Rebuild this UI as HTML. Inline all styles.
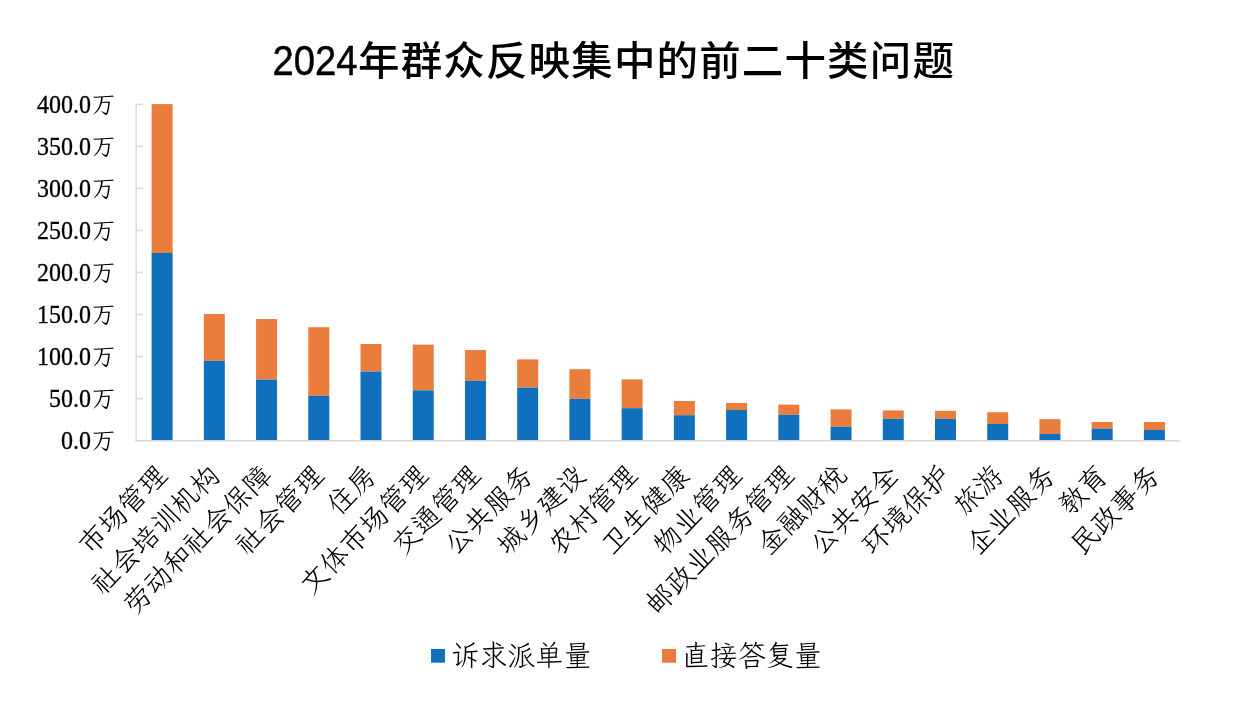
<!DOCTYPE html>
<html lang="zh-CN"><head><meta charset="utf-8"><title>2024年群众反映集中的前二十类问题</title>
<style>html,body{margin:0;padding:0;background:#fff;overflow:hidden}svg{display:block}.y{font-family:'Liberation Serif','LXGW WenKai TC','Noto Serif CJK SC',serif;font-size:24px;fill:#000}.x{font-family:'Liberation Serif','LXGW WenKai TC','Noto Serif CJK SC',serif;font-size:28.0px;fill:#000;letter-spacing:0.10px;font-weight:300}.t{font-family:'Liberation Sans','Noto Sans CJK SC',sans-serif;font-size:44.4px;fill:#000}.c{font-size:41.5px;letter-spacing:1.17px;font-weight:500}.w{font-weight:300}</style></head><body>
<svg width="1250" height="706" viewBox="0 0 1250 706">
<rect width="1250" height="706" fill="#fff"/>
<text class="t" transform="translate(0,75.2) scale(1,0.96)" x="272.4" y="-0.5"><tspan textLength="85" lengthAdjust="spacingAndGlyphs" stroke="#000" stroke-width="0.5">2024</tspan><tspan class="c" x="358" y="0">年群众反映集中的前二十类问题</tspan></text>
<g fill="#D9D9D9">
<rect x="135.4" y="103.6" width="1.6" height="338" fill="#DEDEDE"/>
<rect x="135.4" y="440" width="1045" height="1.6"/>
<rect x="136" y="103.65" width="7" height="1.5"/>
<rect x="136" y="145.68" width="7" height="1.5"/>
<rect x="136" y="187.71" width="7" height="1.5"/>
<rect x="136" y="229.74" width="7" height="1.5"/>
<rect x="136" y="271.77" width="7" height="1.5"/>
<rect x="136" y="313.80" width="7" height="1.5"/>
<rect x="136" y="355.83" width="7" height="1.5"/>
<rect x="136" y="397.86" width="7" height="1.5"/>
</g>
<text class="y" transform="translate(115.6,113.00) scale(1,1.045)" text-anchor="end"><tspan stroke="#000" stroke-width="0.3">400.0</tspan><tspan class="w" dx="0.6" dy="-0.4">万</tspan></text>
<text class="y" transform="translate(115.6,155.03) scale(1,1.045)" text-anchor="end"><tspan stroke="#000" stroke-width="0.3">350.0</tspan><tspan class="w" dx="0.6" dy="-0.4">万</tspan></text>
<text class="y" transform="translate(115.6,197.06) scale(1,1.045)" text-anchor="end"><tspan stroke="#000" stroke-width="0.3">300.0</tspan><tspan class="w" dx="0.6" dy="-0.4">万</tspan></text>
<text class="y" transform="translate(115.6,239.09) scale(1,1.045)" text-anchor="end"><tspan stroke="#000" stroke-width="0.3">250.0</tspan><tspan class="w" dx="0.6" dy="-0.4">万</tspan></text>
<text class="y" transform="translate(115.6,281.12) scale(1,1.045)" text-anchor="end"><tspan stroke="#000" stroke-width="0.3">200.0</tspan><tspan class="w" dx="0.6" dy="-0.4">万</tspan></text>
<text class="y" transform="translate(115.6,323.15) scale(1,1.045)" text-anchor="end"><tspan stroke="#000" stroke-width="0.3">150.0</tspan><tspan class="w" dx="0.6" dy="-0.4">万</tspan></text>
<text class="y" transform="translate(115.6,365.18) scale(1,1.045)" text-anchor="end"><tspan stroke="#000" stroke-width="0.3">100.0</tspan><tspan class="w" dx="0.6" dy="-0.4">万</tspan></text>
<text class="y" transform="translate(115.6,407.21) scale(1,1.045)" text-anchor="end"><tspan stroke="#000" stroke-width="0.3">50.0</tspan><tspan class="w" dx="0.6" dy="-0.4">万</tspan></text>
<text class="y" transform="translate(115.6,449.24) scale(1,1.045)" text-anchor="end"><tspan stroke="#000" stroke-width="0.3">0.0</tspan><tspan class="w" dx="0.6" dy="-0.4">万</tspan></text>
<rect x="151.60" y="104.10" width="21.00" height="148.90" fill="#EA7D3C"/>
<rect x="151.60" y="253.00" width="21.00" height="187.00" fill="#1070BD"/>
<rect x="203.83" y="314.00" width="21.00" height="46.80" fill="#EA7D3C"/>
<rect x="203.83" y="360.80" width="21.00" height="79.20" fill="#1070BD"/>
<rect x="256.05" y="319.00" width="21.00" height="60.60" fill="#EA7D3C"/>
<rect x="256.05" y="379.60" width="21.00" height="60.40" fill="#1070BD"/>
<rect x="308.28" y="327.20" width="21.00" height="68.60" fill="#EA7D3C"/>
<rect x="308.28" y="395.80" width="21.00" height="44.20" fill="#1070BD"/>
<rect x="360.50" y="344.00" width="21.00" height="27.60" fill="#EA7D3C"/>
<rect x="360.50" y="371.60" width="21.00" height="68.40" fill="#1070BD"/>
<rect x="412.73" y="344.60" width="21.00" height="45.80" fill="#EA7D3C"/>
<rect x="412.73" y="390.40" width="21.00" height="49.60" fill="#1070BD"/>
<rect x="464.96" y="350.00" width="21.00" height="30.80" fill="#EA7D3C"/>
<rect x="464.96" y="380.80" width="21.00" height="59.20" fill="#1070BD"/>
<rect x="517.18" y="359.40" width="21.00" height="28.20" fill="#EA7D3C"/>
<rect x="517.18" y="387.60" width="21.00" height="52.40" fill="#1070BD"/>
<rect x="569.41" y="369.20" width="21.00" height="29.60" fill="#EA7D3C"/>
<rect x="569.41" y="398.80" width="21.00" height="41.20" fill="#1070BD"/>
<rect x="621.63" y="379.40" width="21.00" height="28.80" fill="#EA7D3C"/>
<rect x="621.63" y="408.20" width="21.00" height="31.80" fill="#1070BD"/>
<rect x="673.86" y="401.00" width="21.00" height="14.20" fill="#EA7D3C"/>
<rect x="673.86" y="415.20" width="21.00" height="24.80" fill="#1070BD"/>
<rect x="726.09" y="403.00" width="21.00" height="7.00" fill="#EA7D3C"/>
<rect x="726.09" y="410.00" width="21.00" height="30.00" fill="#1070BD"/>
<rect x="778.31" y="404.60" width="21.00" height="10.20" fill="#EA7D3C"/>
<rect x="778.31" y="414.80" width="21.00" height="25.20" fill="#1070BD"/>
<rect x="830.54" y="409.40" width="21.00" height="17.40" fill="#EA7D3C"/>
<rect x="830.54" y="426.80" width="21.00" height="13.20" fill="#1070BD"/>
<rect x="882.76" y="410.40" width="21.00" height="8.40" fill="#EA7D3C"/>
<rect x="882.76" y="418.80" width="21.00" height="21.20" fill="#1070BD"/>
<rect x="934.99" y="410.80" width="21.00" height="8.00" fill="#EA7D3C"/>
<rect x="934.99" y="418.80" width="21.00" height="21.20" fill="#1070BD"/>
<rect x="987.22" y="412.20" width="21.00" height="11.80" fill="#EA7D3C"/>
<rect x="987.22" y="424.00" width="21.00" height="16.00" fill="#1070BD"/>
<rect x="1039.44" y="419.20" width="21.00" height="14.80" fill="#EA7D3C"/>
<rect x="1039.44" y="434.00" width="21.00" height="6.00" fill="#1070BD"/>
<rect x="1091.67" y="422.00" width="21.00" height="6.60" fill="#EA7D3C"/>
<rect x="1091.67" y="428.60" width="21.00" height="11.40" fill="#1070BD"/>
<rect x="1143.89" y="422.00" width="21.00" height="8.00" fill="#EA7D3C"/>
<rect x="1143.89" y="430.00" width="21.00" height="10.00" fill="#1070BD"/>
<text class="x" transform="translate(162.10,469.7) rotate(-45)" x="0.10" y="10.08" text-anchor="end">市场管理</text>
<text class="x" transform="translate(214.33,469.7) rotate(-45)" x="0.10" y="10.08" text-anchor="end">社会培训机构</text>
<text class="x" transform="translate(266.55,469.7) rotate(-45)" x="0.10" y="10.08" text-anchor="end">劳动和社会保障</text>
<text class="x" transform="translate(318.78,469.7) rotate(-45)" x="0.10" y="10.08" text-anchor="end">社会管理</text>
<text class="x" transform="translate(371.00,469.7) rotate(-45)" x="0.10" y="10.08" text-anchor="end">住房</text>
<text class="x" transform="translate(423.23,469.7) rotate(-45)" x="0.10" y="10.08" text-anchor="end">文体市场管理</text>
<text class="x" transform="translate(475.46,469.7) rotate(-45)" x="0.10" y="10.08" text-anchor="end">交通管理</text>
<text class="x" transform="translate(527.68,469.7) rotate(-45)" x="0.10" y="10.08" text-anchor="end">公共服务</text>
<text class="x" transform="translate(579.91,469.7) rotate(-45)" x="0.10" y="10.08" text-anchor="end">城乡建设</text>
<text class="x" transform="translate(632.13,469.7) rotate(-45)" x="0.10" y="10.08" text-anchor="end">农村管理</text>
<text class="x" transform="translate(684.36,469.7) rotate(-45)" x="0.10" y="10.08" text-anchor="end">卫生健康</text>
<text class="x" transform="translate(736.59,469.7) rotate(-45)" x="0.10" y="10.08" text-anchor="end">物业管理</text>
<text class="x" transform="translate(788.81,469.7) rotate(-45)" x="0.10" y="10.08" text-anchor="end">邮政业服务管理</text>
<text class="x" transform="translate(841.04,469.7) rotate(-45)" x="0.10" y="10.08" text-anchor="end">金融财税</text>
<text class="x" transform="translate(893.26,469.7) rotate(-45)" x="0.10" y="10.08" text-anchor="end">公共安全</text>
<text class="x" transform="translate(945.49,469.7) rotate(-45)" x="0.10" y="10.08" text-anchor="end">环境保护</text>
<text class="x" transform="translate(997.72,469.7) rotate(-45)" x="0.10" y="10.08" text-anchor="end">旅游</text>
<text class="x" transform="translate(1049.94,469.7) rotate(-45)" x="0.10" y="10.08" text-anchor="end">企业服务</text>
<text class="x" transform="translate(1102.17,469.7) rotate(-45)" x="0.10" y="10.08" text-anchor="end">教育</text>
<text class="x" transform="translate(1154.39,469.7) rotate(-45)" x="0.10" y="10.08" text-anchor="end">民政事务</text>
<rect x="431" y="649" width="14" height="13.7" fill="#1070BD"/>
<text class="x" transform="translate(451.1,665.9) scale(1,1.07)">诉求派单量</text>
<rect x="662" y="649" width="14" height="13.7" fill="#EA7D3C"/>
<text class="x" transform="translate(681.5,665.9) scale(1,1.07)">直接答复量</text>
</svg></body></html>
